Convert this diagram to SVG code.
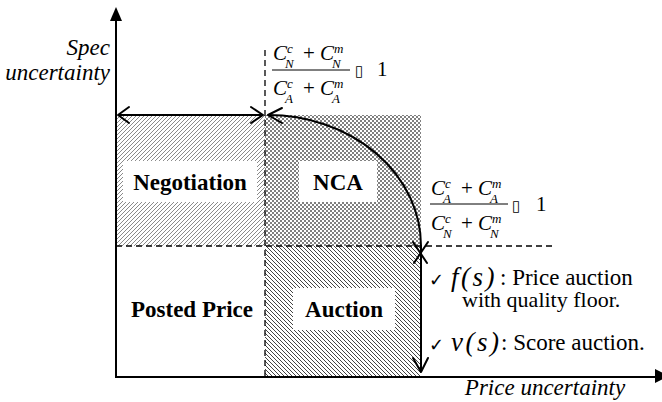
<svg xmlns="http://www.w3.org/2000/svg" width="662" height="402" viewBox="0 0 662 402">
<defs>
<pattern id="hNeg" patternUnits="userSpaceOnUse" width="4" height="4">
<path d="M-1,1 l2,-2 M0,4 l4,-4 M3,5 l2,-2" stroke="#8a8a8a" stroke-width="1"/>
</pattern>
<pattern id="hAuc" patternUnits="userSpaceOnUse" width="4" height="4">
<path d="M-1,3 l2,2 M0,0 l4,4 M3,-1 l2,2" stroke="#444" stroke-width="1"/>
</pattern>
<pattern id="hNca" patternUnits="userSpaceOnUse" width="4" height="4">
<rect x="0" y="0" width="2" height="2" fill="#808080"/>
<rect x="2" y="2" width="2" height="2" fill="#808080"/>
</pattern>
</defs>
<style>
text{font-family:"Liberation Serif","Times New Roman",serif;fill:#000}
.lbl{font-weight:bold;font-size:23px;text-anchor:middle}
.it{font-style:italic;font-size:23px}
.rm{font-size:23px}
.mC{font-style:italic;font-size:21px}
.ms{font-style:italic;font-size:13px}
.mr{font-style:normal;font-size:21px}
.box{font-family:"DejaVu Sans",sans-serif;font-size:15px}
.chk{font-family:"DejaVu Sans",sans-serif;font-size:18px}
.ln{stroke:#000;stroke-width:2;fill:none}
.dash{stroke:#000;stroke-width:1.3;stroke-dasharray:6,4;fill:none}
.head{stroke:#000;stroke-width:2;fill:none;stroke-linecap:round;stroke-linejoin:round}
.white{fill:#fff}
</style>

<g id="region-negotiation">
<rect x="116" y="115" width="149" height="131" fill="url(#hNeg)"/>
<rect class="white" x="123" y="161" width="134" height="41"/>
<text class="lbl" x="190" y="190">Negotiation</text>
</g>
<g id="region-nca">
<rect x="265" y="115" width="156" height="131" fill="url(#hNca)"/>
<rect class="white" x="299" y="161" width="78" height="41"/>
<text class="lbl" x="338" y="190">NCA</text>
</g>
<g id="region-auction">
<rect x="265" y="246" width="156" height="130" fill="url(#hAuc)"/>
<rect class="white" x="293" y="288" width="102" height="42"/>
<text class="lbl" x="344" y="317">Auction</text>
</g>
<g id="region-posted">
<text class="lbl" x="192" y="317">Posted Price</text>
</g>

<g id="connectors">
<path class="dash" d="M265,50 V376"/>
<path class="dash" d="M116,246 H553"/>
<path class="ln" d="M118,115 H263"/>
<path class="head" d="M129,107 L118,115 L129,123"/>
<path class="head" d="M251,107 L263,115 L251,123"/>
<path class="ln" d="M268,115 A153,131 0 0 1 421,246"/>
<path class="head" d="M282,108 L268,115 L282,123"/>
<path class="ln" d="M421,246 V372"/>
<path class="head" d="M413,242 L427,263 M428,242 L414,263"/>
<path class="head" d="M413,358 L421,372 L428,358"/>
</g>

<g id="axes">
<path class="ln" d="M116,18 V377 H658"/>
<polygon points="116,7 110,21 122,21" fill="#000"/>
<polygon points="655,369 669,376 655,383" fill="#000"/>
<text class="it" x="110" y="55" text-anchor="end">Spec</text>
<text class="it" x="110" y="80" text-anchor="end">uncertainty</text>
<text class="it" x="545" y="395" text-anchor="middle">Price uncertainty</text>
</g>

<g id="cond-nca">
<text class="mC"><tspan x="273" y="60">C</tspan><tspan class="ms" x="287" y="53">c</tspan><tspan class="ms" x="285" y="68">N</tspan><tspan class="mr" x="303" y="60">+</tspan><tspan x="320" y="60">C</tspan><tspan class="ms" x="334" y="53">m</tspan><tspan class="ms" x="332" y="68">N</tspan></text>
<path d="M272,70 H350" stroke="#000" stroke-width="1"/>
<text class="mC"><tspan x="273" y="95">C</tspan><tspan class="ms" x="287" y="88">c</tspan><tspan class="ms" x="285" y="103">A</tspan><tspan class="mr" x="303" y="95">+</tspan><tspan x="320" y="95">C</tspan><tspan class="ms" x="334" y="88">m</tspan><tspan class="ms" x="332" y="103">A</tspan></text>
<text class="box" x="355" y="76">▯</text>
<text class="mr" x="377" y="76">1</text>
</g>

<g id="cond-auction">
<text class="mC"><tspan x="431" y="195">C</tspan><tspan class="ms" x="445" y="188">c</tspan><tspan class="ms" x="443" y="203">A</tspan><tspan class="mr" x="461" y="195">+</tspan><tspan x="478" y="195">C</tspan><tspan class="ms" x="492" y="188">m</tspan><tspan class="ms" x="490" y="203">A</tspan></text>
<path d="M430,204 H508" stroke="#000" stroke-width="1"/>
<text class="mC"><tspan x="431" y="230">C</tspan><tspan class="ms" x="445" y="223">c</tspan><tspan class="ms" x="443" y="238">N</tspan><tspan class="mr" x="461" y="230">+</tspan><tspan x="478" y="230">C</tspan><tspan class="ms" x="492" y="223">m</tspan><tspan class="ms" x="490" y="238">N</tspan></text>
<text class="box" x="512" y="211">▯</text>
<text class="mr" x="536" y="211">1</text>
</g>

<g id="notes">
<text class="chk" x="429" y="286">✓</text>
<text class="it" x="451" y="286" style="font-size:27px;letter-spacing:2.5px">f(s)</text>
<text class="rm" x="500" y="285">: Price auction</text>
<text class="rm" x="462" y="307" style="font-size:22px">with quality floor.</text>
<text class="chk" x="429" y="351">✓</text>
<text class="it" x="451" y="351" style="font-size:27px;letter-spacing:2.5px">v(s)</text>
<text class="rm" x="501" y="350">: Score auction.</text>
</g>
</svg>
